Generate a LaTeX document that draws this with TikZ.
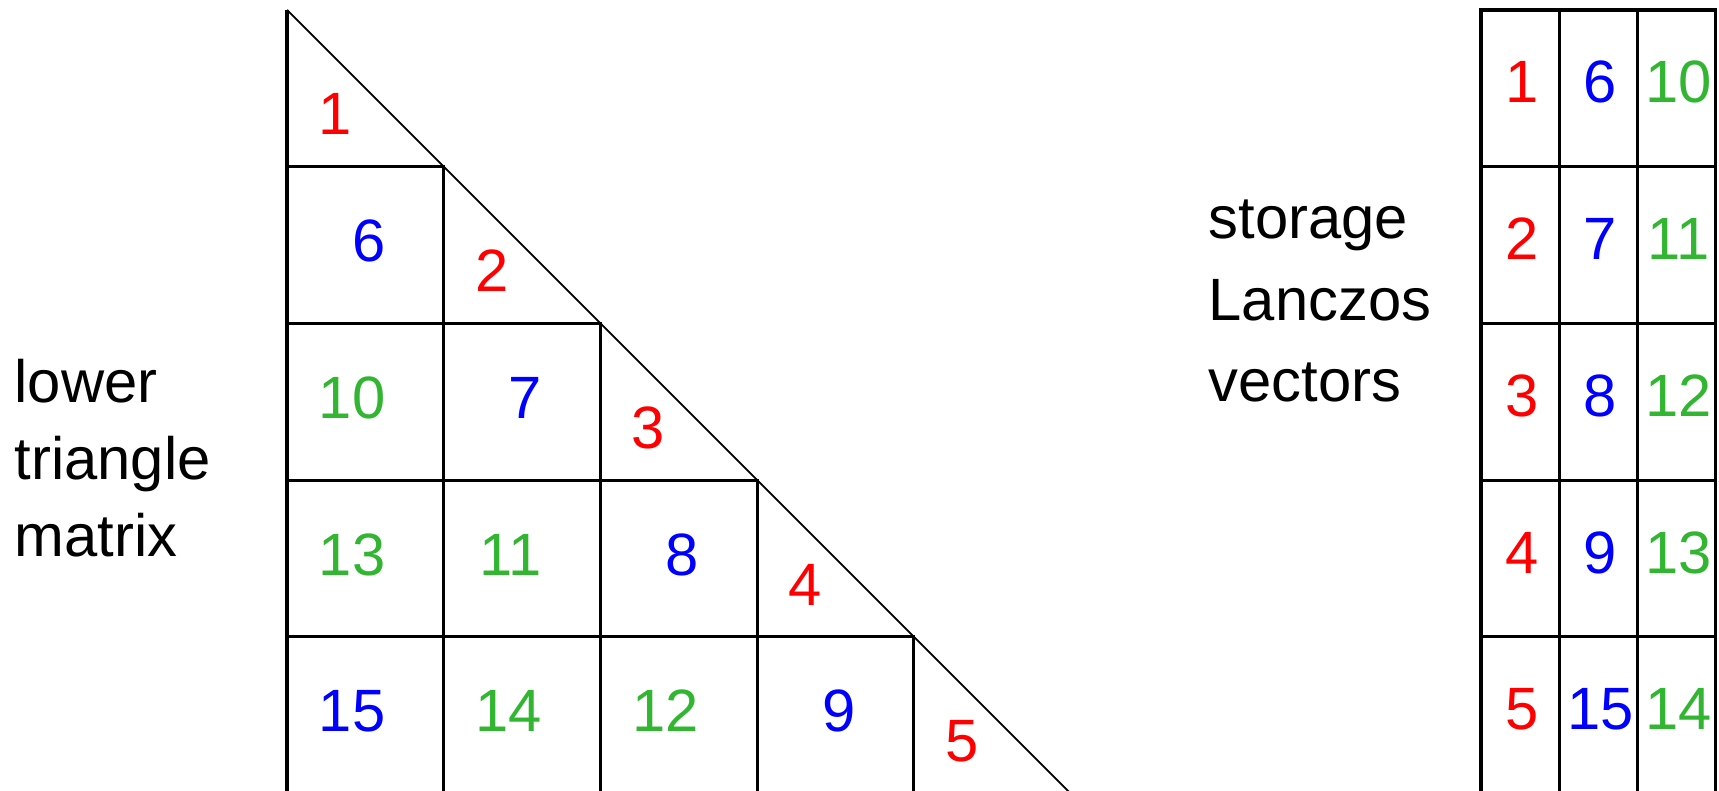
\documentclass[tikz,border=0pt]{standalone}
\usepackage{fontspec}
\setmainfont{Liberation Sans}
\usepackage{xcolor}
\definecolor{diagred}{HTML}{FF0000}
\definecolor{vecblue}{HTML}{0000FF}
\definecolor{vecgreen}{RGB}{50,182,50}
\usetikzlibrary{positioning}

\begin{document}
\begin{tikzpicture}[
  x=0.1mm,y=-0.1mm,
  cell/.style ={rectangle,draw,line width=0.9pt,minimum width=15.67mm,
                minimum height=15.67mm,inner sep=0pt,outer sep=0pt,anchor=north west},
  vcell/.style={cell,minimum width=7.82mm},
  num/.style  ={font=\fontsize{17}{20}\selectfont,inner sep=0pt},
  lbl/.style  ={font=\fontsize{17}{22}\selectfont,align=left,inner sep=0pt,anchor=base west}
]
\useasboundingbox (0,0) rectangle (1719,791);

% lower triangle: full cells
\foreach \r/\c/\n/\col in {1/0/6/vecblue,2/1/7/vecblue,3/2/8/vecblue,4/3/9/vecblue,
                           2/0/10/vecgreen,3/1/11/vecgreen,4/2/12/vecgreen,
                           3/0/13/vecgreen,4/1/14/vecgreen,4/0/15/vecblue}{
  \node[cell] (m-\r-\c) at ({287+\c*156.7},{10+\r*156.7}) {};
  \node[num,text=\col,anchor=base east] (n-\r-\c)
       at ([xshift=9.9mm,yshift=-9.5mm]m-\r-\c.north west) {\n};
}

% diagonal cells
\foreach \r in {0,...,4}{
  \coordinate (d-\r) at ({287+\r*156.7},{10+\r*156.7});
  \pgfmathtruncatemacro{\n}{\r+1}
  \node[num,text=diagred,anchor=base] (nd-\r) at ([xshift=4.8mm,yshift=-12.5mm]d-\r) {\n};
}
\coordinate (tri-bl) at (287,793.5);
\coordinate (tri-br) at (1070.5,793.5);
\draw[line width=0.9pt] (d-0) -- (tri-bl);
\draw[line width=0.5pt] (d-0) -- (tri-br);

% storage of the Lanczos vectors
\foreach \r/\a/\b/\cc in {0/1/6/10,1/2/7/11,2/3/8/12,3/4/9/13,4/5/15/14}{
  \foreach \c/\n/\col in {0/\a/diagred,1/\b/vecblue,2/\cc/vecgreen}{
    \node[vcell] (s-\r-\c) at ({1481+\c*78.2},{10+\r*156.7}) {};
    \node[num,text=\col,anchor=base] (ns-\r-\c)
         at ([xshift=0.2mm,yshift=-9.3mm]s-\r-\c.north) {\n};
  }
}

\node[lbl] (lowerlbl) at (14,557) {lower\\triangle\\matrix};
\node[lbl,font=\fontsize{17}{23.3}\selectfont] (storelbl) at (1208,402) {storage\\Lanczos\\vectors};

\end{tikzpicture}
\end{document}
